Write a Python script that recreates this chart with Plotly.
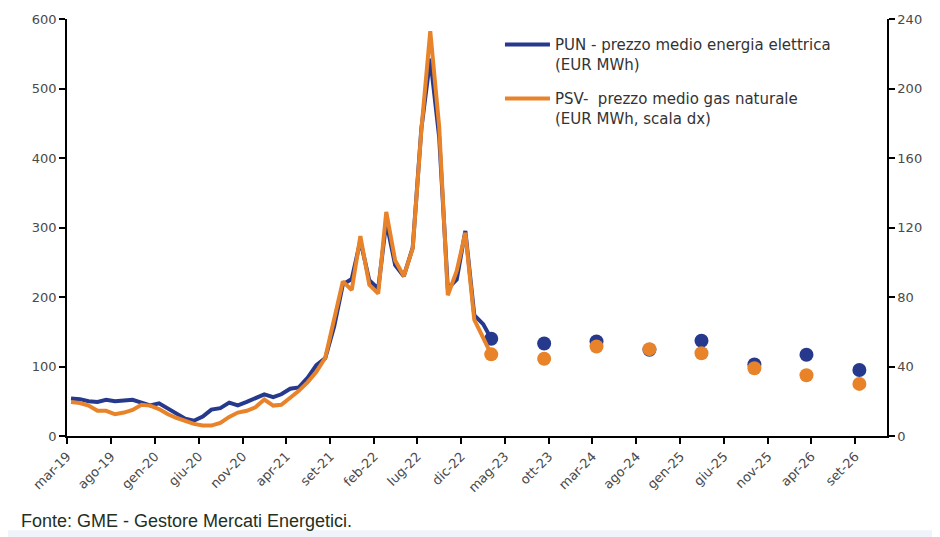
import pandas as pd
import plotly.graph_objects as go

# ---- data -------------------------------------------------------------
# monthly history mar-19 .. mar-23 (mid-month)
hist_months = pd.date_range("2019-03-01", "2023-03-01", freq="MS") + pd.Timedelta(days=14)

pun_hist = [
    54, 53, 50, 49, 52, 50, 51, 52, 48, 44,                 # 2019 mar-dic
    47, 40, 32, 25, 22, 28, 38, 40, 48, 44, 49, 54,         # 2020
    60, 56, 60, 68, 70, 84, 102, 112, 158, 218, 226, 281,   # 2021
    224, 212, 308, 246, 230, 271, 442, 543, 430, 212, 225, 295,  # 2022
    174, 161, 140,                                          # 2023 gen-mar
]
psv_hist = [
    19.5, 19, 17.5, 14.5, 14.5, 12.5, 13.5, 15, 18, 17.5,
    15.5, 12.5, 10.5, 8.5, 7, 6, 6, 7.5, 11, 13.5, 14.5, 16.5,
    21, 17.5, 18, 22, 26, 31, 37, 45, 67, 89, 84, 115,
    87, 82, 129, 101, 92, 108, 176, 233, 178, 81, 95, 117,
    67, 57, 47,
]

# semi-annual forward points
fwd_months = pd.to_datetime([
    "2023-03-15", "2023-09-15", "2024-03-15", "2024-09-15",
    "2025-03-15", "2025-09-15", "2026-03-15", "2026-09-15",
])
pun_fwd = [140, 133, 136, 124, 137, 103, 117, 95]
psv_fwd = [47, 44.5, 51.5, 50, 47.6, 39, 35, 30]

tick_dates = pd.date_range("2019-03-01", periods=19, freq="5MS")
tick_labels = ["mar-19", "ago-19", "gen-20", "giu-20", "nov-20", "apr-21", "set-21",
               "feb-22", "lug-22", "dic-22", "mag-23", "ott-23", "mar-24", "ago-24",
               "gen-25", "giu-25", "nov-25", "apr-26", "set-26"]

left_ticks = [0, 100, 200, 300, 400, 500, 600]
right_ticks = [0, 40, 80, 120, 160, 200, 240]

# ---- style -------------------------------------------------------------
BLUE = "#26398C"
ORANGE = "#E8832A"
TICK_FONT = dict(family="DejaVu Sans", size=13, color="#4a4a4a")

fig = go.Figure()

fig.add_trace(go.Scatter(
    x=hist_months, y=pun_hist, mode="lines",
    line=dict(color=BLUE, width=4),
    name="PUN - prezzo medio energia elettrica<br>(EUR MWh)",
    legendgroup="pun", yaxis="y",
))
fig.add_trace(go.Scatter(
    x=fwd_months, y=pun_fwd, mode="markers",
    marker=dict(color=BLUE, size=14),
    showlegend=False, legendgroup="pun", yaxis="y",
))
fig.add_trace(go.Scatter(
    x=hist_months, y=psv_hist, mode="lines",
    line=dict(color=ORANGE, width=4),
    name="PSV-  prezzo medio gas naturale<br>(EUR MWh, scala dx)",
    legendgroup="psv", yaxis="y2",
))
fig.add_trace(go.Scatter(
    x=fwd_months, y=psv_fwd, mode="markers",
    marker=dict(color=ORANGE, size=14),
    showlegend=False, legendgroup="psv", yaxis="y2",
))

axis_common = dict(
    tickfont=TICK_FONT,
    ticks="outside", ticklen=6, tickcolor="black", tickwidth=1.5,
    showline=True, linecolor="black", linewidth=1.5,
    showgrid=False, zeroline=False, automargin=False,
)

fig.update_layout(
    width=932, height=529,
    margin=dict(l=59, r=53, t=11, b=101),
    paper_bgcolor="white", plot_bgcolor="white",
    font=dict(family="DejaVu Sans", size=12, color="#4a4a4a"),
    xaxis=dict(
        type="date",
        range=["2019-03-01", "2026-12-20"],
        tickmode="array", tickvals=tick_dates, ticktext=tick_labels,
        tickangle=-45, **axis_common,
    ),
    yaxis=dict(
        range=[0, 600], tickmode="array", tickvals=left_ticks,
        **axis_common,
    ),
    yaxis2=dict(
        range=[0, 240], tickmode="array", tickvals=right_ticks,
        overlaying="y", side="right",
        **axis_common,
    ),
    legend=dict(
        x=0.528, y=0.978, xanchor="left", yanchor="top",
        bgcolor="rgba(0,0,0,0)", font=dict(family="DejaVu Sans", size=15, color="#333"),
        valign="top", tracegroupgap=12, itemwidth=45,
    ),
    showlegend=True,
)

fig.add_annotation(
    text="Fonte: GME - Gestore Mercati Energetici.",
    xref="paper", yref="paper", x=-0.058, y=-0.204,
    xanchor="left", yanchor="middle", showarrow=False,
    font=dict(family="Liberation Sans", size=18, color="#24301f"),
)
fig.add_shape(
    type="rect", xref="paper", yref="paper",
    x0=-0.09, x1=1.07, y0=-0.243, y1=-0.226,
    fillcolor="#EEF4FA", line=dict(width=0), layer="below",
)

fig.write_html("out.html")
